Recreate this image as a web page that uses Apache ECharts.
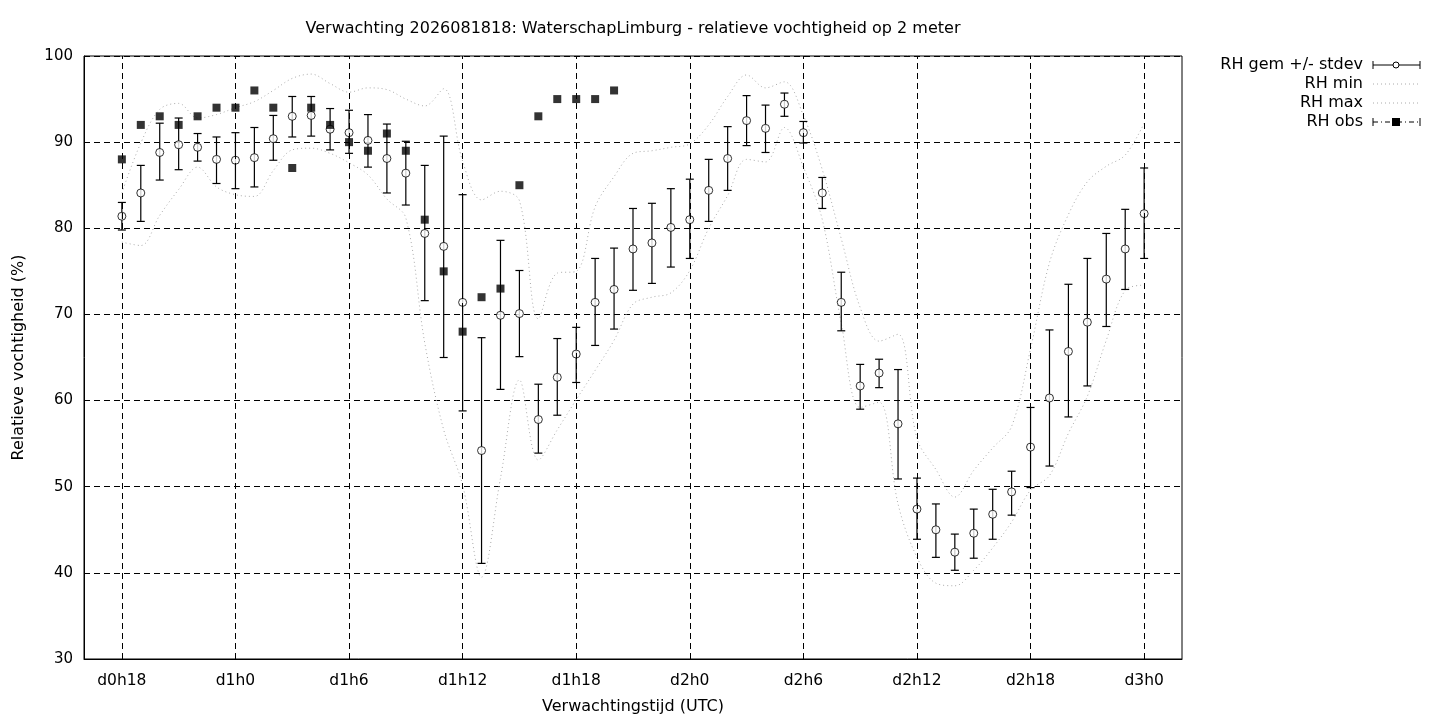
<!DOCTYPE html>
<html>
<head>
<meta charset="utf-8">
<title>Verwachting RH</title>
<script src="https://cdn.jsdelivr.net/npm/echarts@6/dist/echarts.min.js"></script>
<style>
  html, body { margin: 0; padding: 0; background: #fff; }
  #chart { width: 1440px; height: 720px; }
</style>
</head>
<body>
<div id="chart"></div>
<script>
// uren vanaf d0h0
var hours = [];
for (var h = 18; h <= 72; h++) hours.push(h);

// gemiddelde en +/- stdev
var rhMean = [81.4, 84.1, 88.8, 89.7, 89.4, 88.0, 87.9, 88.2, 90.4, 93.0,
  93.1, 91.5, 91.1, 90.2, 88.1, 86.4, 79.4, 77.9, 71.4, 54.2,
  69.9, 70.1, 57.8, 62.7, 65.4, 71.4, 72.9, 77.6, 78.3, 80.1,
  81.0, 84.4, 88.1, 92.5, 91.6, 94.4, 91.1, 84.1, 71.4, 61.7,
  63.2, 57.3, 47.4, 45.0, 42.4, 44.6, 46.8, 49.4, 54.6, 60.3,
  65.7, 69.1, 74.1, 77.6, 81.7];
var rhLow = [79.8, 80.8, 85.6, 86.8, 87.8, 85.2, 84.6, 84.8, 87.9, 90.6,
  90.7, 89.1, 88.7, 87.1, 84.1, 82.7, 71.6, 65.0, 58.8, 41.1,
  61.3, 65.1, 53.9, 58.3, 62.1, 66.4, 68.3, 72.8, 73.6, 75.5,
  76.5, 80.8, 84.4, 89.6, 88.8, 93.0, 89.9, 82.3, 68.1, 59.0,
  61.5, 50.9, 43.9, 41.8, 40.3, 41.7, 43.9, 46.7, 49.9, 52.4,
  58.1, 61.7, 68.6, 72.9, 76.5];
var rhHigh = [83.0, 87.3, 92.2, 92.8, 91.0, 90.6, 91.1, 91.7, 93.1, 95.3,
  95.3, 93.9, 93.7, 93.2, 92.1, 90.1, 87.3, 90.7, 83.9, 67.3,
  78.6, 75.1, 61.9, 67.2, 68.5, 76.5, 77.7, 82.3, 82.9, 84.6,
  85.7, 88.0, 91.8, 95.4, 94.3, 95.7, 92.4, 85.9, 74.9, 64.2,
  64.8, 63.6, 51.0, 48.0, 44.5, 47.4, 49.7, 51.8, 59.2, 68.2,
  73.5, 76.5, 79.4, 82.2, 87.0];

// minimum en maximum over de leden
var rhMin = [78.4, 78.0, 81.5, 84.5, 87.1, 84.8, 83.9, 83.7, 86.7, 89.1,
  89.3, 88.7, 87.6, 86.2, 83.4, 81.2, 66.7, 56.6, 50.2, 39.5,
  51.0, 62.4, 53.1, 56.6, 60.1, 63.5, 67.0, 71.2, 72.0, 72.5,
  75.1, 80.0, 83.8, 88.0, 87.7, 91.7, 87.1, 81.0, 69.0, 59.2,
  59.8, 48.0, 41.8, 38.8, 38.5, 40.3, 42.9, 45.9, 49.6, 51.3,
  56.2, 60.5, 67.0, 72.8, 73.4];
var rhMax = [84.1, 89.9, 93.8, 94.5, 92.8, 93.2, 94.0, 94.7, 96.0, 97.4,
  97.9, 96.8, 95.8, 96.3, 96.1, 95.0, 94.2, 96.2, 87.8, 83.3,
  84.3, 83.2, 69.5, 74.8, 75.0, 82.5, 86.0, 88.7, 89.0, 89.4,
  89.8, 92.0, 95.3, 97.8, 96.3, 97.0, 93.1, 86.8, 78.8, 70.8,
  66.9, 67.7, 55.6, 52.0, 48.8, 51.9, 54.5, 57.0, 66.0, 76.0,
  81.6, 85.4, 87.2, 88.5, 92.2];

// waarnemingen (vanaf d0h18)
var rhObs = [88, 92, 93, 92, 93, 94, 94, 96, 94, 87,
  94, 92, 90, 89, 91, 89, 81, 75, 68, 72,
  73, 85, 93, 95, 95, 95, 96];

var xTickValues = [18, 24, 30, 36, 42, 48, 54, 60, 66, 72];
var xTickLabels = ['d0h18', 'd1h0', 'd1h6', 'd1h12', 'd1h18', 'd2h0', 'd2h6', 'd2h12', 'd2h18', 'd3h0'];

var FONT = 'DejaVu Sans';

function pairs(vals) {
  var out = [];
  for (var i = 0; i < vals.length; i++) out.push([hours[i], vals[i]]);
  return out;
}

var barData = [];
for (var i = 0; i < hours.length; i++) barData.push([hours[i], rhLow[i], rhHigh[i]]);

var myChart = echarts.init(document.getElementById('chart'), null, { renderer: 'canvas' });

// legenda zelf tekenen (gnuplot stijl)
var lx = 1363, sx0 = 1373, sx1 = 1420, rows = [65, 84, 103, 122];
var legendNames = ['RH gem +/- stdev', 'RH min', 'RH max', 'RH obs'];
var legend = [];
for (var r = 0; r < legendNames.length; r++) {
  legend.push({
    type: 'text', x: lx, y: rows[r], silent: true,
    style: { text: legendNames[r], font: '16px "' + FONT + '"', fill: '#000', textAlign: 'right', textVerticalAlign: 'middle' }
  });
}
// gem
legend.push({ type: 'line', shape: { x1: sx0, y1: rows[0], x2: sx1, y2: rows[0] }, style: { stroke: '#000', lineWidth: 1 } });
legend.push({ type: 'line', shape: { x1: sx0, y1: rows[0] - 4, x2: sx0, y2: rows[0] + 4 }, style: { stroke: '#000', lineWidth: 1 } });
legend.push({ type: 'line', shape: { x1: sx1, y1: rows[0] - 4, x2: sx1, y2: rows[0] + 4 }, style: { stroke: '#000', lineWidth: 1 } });
legend.push({ type: 'circle', shape: { cx: 1396, cy: rows[0], r: 3 }, style: { fill: '#fff', stroke: '#000', lineWidth: 1 } });
// min / max
legend.push({ type: 'line', shape: { x1: sx0, y1: rows[1], x2: sx1, y2: rows[1] }, style: { stroke: '#aaa', lineWidth: 1, lineDash: [1, 3] } });
legend.push({ type: 'line', shape: { x1: sx0, y1: rows[2], x2: sx1, y2: rows[2] }, style: { stroke: '#aaa', lineWidth: 1, lineDash: [1, 3] } });
// obs
legend.push({ type: 'line', shape: { x1: sx0, y1: rows[3], x2: sx1, y2: rows[3] }, style: { stroke: '#000', lineWidth: 1, lineDash: [5, 3, 1, 3] } });
legend.push({ type: 'line', shape: { x1: sx0, y1: rows[3] - 4, x2: sx0, y2: rows[3] + 4 }, style: { stroke: '#000', lineWidth: 1 } });
legend.push({ type: 'line', shape: { x1: sx1, y1: rows[3] - 4, x2: sx1, y2: rows[3] + 4 }, style: { stroke: '#000', lineWidth: 1 } });
legend.push({ type: 'rect', shape: { x: 1392, y: rows[3] - 4, width: 8, height: 8 }, style: { fill: '#000' } });

var gridLines = [];
for (var g = 0; g < xTickValues.length; g++) gridLines.push({ xAxis: xTickValues[g] });

var option = {
  animation: false,
  textStyle: { fontFamily: FONT },
  grid: {
    left: 84, right: 258, top: 56, bottom: 61,
    outerBoundsMode: 'none', containLabel: false,
    show: true, borderColor: '#000', borderWidth: 1
  },
  graphic: [{
    type: 'text', x: 633, y: 29, silent: true,
    style: {
      text: 'Verwachting 2026081818: WaterschapLimburg - relatieve vochtigheid op 2 meter',
      font: '16px "' + FONT + '"', fill: '#000', textAlign: 'center', textVerticalAlign: 'middle'
    }
  }].concat(legend),
  xAxis: {
    type: 'value', min: 16, max: 74,
    name: 'Verwachtingstijd (UTC)', nameLocation: 'middle', nameGap: 40,
    nameTextStyle: { fontSize: 16, color: '#000', fontFamily: FONT },
    axisLine: { show: true, lineStyle: { color: '#000', width: 1 } },
    axisTick: { show: false },
    splitLine: { show: false },
    axisLabel: {
      customValues: xTickValues,
      fontSize: 15.5, color: '#000', margin: 14, fontFamily: FONT,
      formatter: function (v) { return xTickLabels[xTickValues.indexOf(v)]; }
    }
  },
  yAxis: {
    type: 'value', min: 30, max: 100, interval: 10,
    name: 'Relatieve vochtigheid (%)', nameLocation: 'middle', nameGap: 57, nameRotate: 90,
    nameTextStyle: { fontSize: 16, color: '#000', fontFamily: FONT },
    axisLine: { show: true, lineStyle: { color: '#000', width: 1 } },
    axisTick: { show: false },
    axisLabel: { fontSize: 15, color: '#000', margin: 11, fontFamily: FONT },
    splitLine: { show: true, lineStyle: { color: '#000', width: 1, type: [6, 4] } }
  },
  series: [
    {
      name: 'RH min', type: 'line', data: pairs(rhMin), showSymbol: false, smooth: 0.35,
      lineStyle: { color: '#aaaaaa', width: 1, type: [1, 3] }, silent: true, z: 1,
      markLine: {
        silent: true, symbol: 'none', label: { show: false },
        lineStyle: { color: '#000', width: 1, type: [6, 4] },
        data: gridLines
      }
    },
    {
      name: 'RH max', type: 'line', data: pairs(rhMax), showSymbol: false, smooth: 0.35,
      lineStyle: { color: '#aaaaaa', width: 1, type: [1, 3] }, silent: true, z: 1
    },
    {
      name: 'RH stdev', type: 'custom', data: barData, z: 3,
      renderItem: function (params, api) {
        var x = api.value(0);
        var p1 = api.coord([x, api.value(1)]);
        var p2 = api.coord([x, api.value(2)]);
        var w = 4;
        var st = { stroke: '#000', lineWidth: 1.2 };
        return {
          type: 'group',
          children: [
            { type: 'line', shape: { x1: p1[0], y1: p1[1], x2: p2[0], y2: p2[1] }, style: st },
            { type: 'line', shape: { x1: p1[0] - w, y1: p1[1], x2: p1[0] + w, y2: p1[1] }, style: st },
            { type: 'line', shape: { x1: p2[0] - w, y1: p2[1], x2: p2[0] + w, y2: p2[1] }, style: st }
          ]
        };
      }
    },
    {
      name: 'RH gem', type: 'scatter', data: pairs(rhMean), symbol: 'circle', symbolSize: 8, z: 4,
      itemStyle: { color: '#fff', borderColor: '#000', borderWidth: 1 }
    },
    {
      name: 'RH obs', type: 'scatter', data: pairs(rhObs), symbol: 'rect', symbolSize: 8, z: 5,
      itemStyle: { color: '#000' }
    }
  ]
};

myChart.setOption(option);
</script>
</body>
</html>
